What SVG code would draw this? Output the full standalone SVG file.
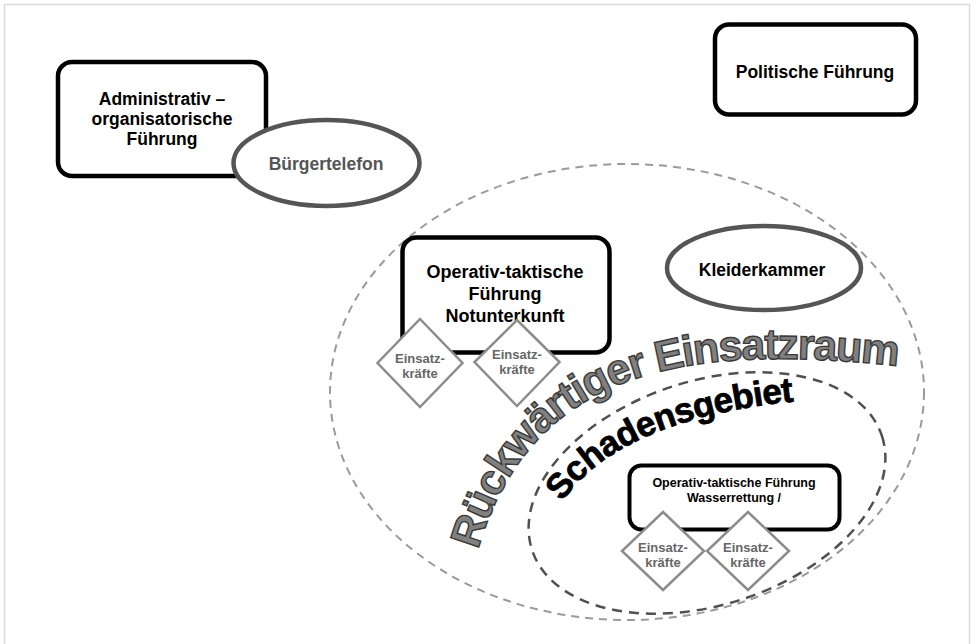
<svg xmlns="http://www.w3.org/2000/svg" width="973" height="644" viewBox="0 0 973 644">
<style>
  text { font-family: "Liberation Sans", Arial, Helvetica, sans-serif; font-weight: bold; }
  .box { fill: #fff; stroke: #000; stroke-width: 4.5; }
  .oval { fill: #fff; stroke: #555; stroke-width: 4.5; }
  .dia { fill: #fff; stroke: #8c8c8c; stroke-width: 2.5; }
  .lbl { font-size: 17.5px; fill: #000; text-anchor: middle; }
  .dlbl { font-size: 13px; fill: #666; text-anchor: middle; }
  .area1 { fill: none; stroke: #9a9a9a; stroke-width: 2; stroke-dasharray: 8 6; }
  .area2 { fill: none; stroke: #505050; stroke-width: 2.5; stroke-dasharray: 10 7; }
</style>
<defs>
  <path id="arcRueck" d="M478,550 C534,359 702,343 915,368"/>
  <path id="arcSchaden" d="M562,502 C608,436 704,408 820,399"/>
</defs>
<rect x="4.5" y="4.5" width="965" height="660" fill="#fff" stroke="#dcdcdc" stroke-width="1.5"/>

<g id="area-rueckwaertiger-einsatzraum">
  <ellipse class="area1" cx="627" cy="392" rx="297" ry="228"/>
</g>
<g id="area-schadensgebiet">
  <ellipse class="area2" cx="707" cy="493" rx="184" ry="112" transform="rotate(-18 707 493)"/>
</g>

<g id="label-rueckwaertiger-einsatzraum">
  <text font-size="43" letter-spacing="-1.4" fill="#808080" stroke="#3a3a3a" stroke-width="1.4"><textPath href="#arcRueck">Rückwärtiger Einsatzraum</textPath></text>
</g>
<g id="label-schadensgebiet">
  <text font-size="35" letter-spacing="-0.6" fill="#000" stroke="#000" stroke-width="0.8"><textPath href="#arcSchaden">Schadensgebiet</textPath></text>
</g>

<g id="node-admin">
  <rect class="box" x="58" y="62" width="208" height="114" rx="14"/>
  <text class="lbl" x="162" y="105">Administrativ –</text>
  <text class="lbl" x="162" y="125">organisatorische</text>
  <text class="lbl" x="162" y="145">Führung</text>
</g>
<g id="node-buergertelefon">
  <ellipse class="oval" cx="326.5" cy="163" rx="93" ry="43"/>
  <text class="lbl" x="326" y="170" style="fill:#555">Bürgertelefon</text>
</g>
<g id="node-politisch">
  <rect class="box" x="715" y="24.5" width="201" height="90" rx="14"/>
  <text class="lbl" x="815" y="78">Politische Führung</text>
</g>
<g id="node-notunterkunft">
  <rect class="box" x="402.5" y="237.5" width="207" height="115" rx="14"/>
  <text class="lbl" x="505" y="278" style="font-size:18px">Operativ-taktische</text>
  <text class="lbl" x="505" y="300" style="font-size:18px">Führung</text>
  <text class="lbl" x="505" y="322" style="font-size:18px">Notunterkunft</text>
</g>
<g id="node-kleiderkammer">
  <ellipse class="oval" cx="764" cy="268" rx="97" ry="42"/>
  <text class="lbl" x="762" y="276">Kleiderkammer</text>
</g>
<g id="node-einsatzkraefte-1">
  <polygon class="dia" points="420,319 462.5,363 420,407 377.5,363"/>
  <text class="dlbl" x="420" y="363">Einsatz-</text>
  <text class="dlbl" x="420" y="378">kräfte</text>
</g>
<g id="node-einsatzkraefte-2">
  <polygon class="dia" points="517,320 559.5,362 517,406 474.5,362"/>
  <text class="dlbl" x="517" y="359">Einsatz-</text>
  <text class="dlbl" x="517" y="374">kräfte</text>
</g>
<g id="node-wasserrettung">
  <rect class="box" x="629.5" y="465.5" width="210" height="64" rx="12" style="stroke-width:4"/>
  <text class="lbl" x="734" y="487" style="font-size:12.5px">Operativ-taktische Führung</text>
  <text class="lbl" x="734" y="502" style="font-size:12.5px">Wasserrettung /</text>
</g>
<g id="node-einsatzkraefte-3">
  <polygon class="dia" points="663,512 704,551 663,590 622,551"/>
  <text class="dlbl" x="663" y="552">Einsatz-</text>
  <text class="dlbl" x="663" y="567">kräfte</text>
</g>
<g id="node-einsatzkraefte-4">
  <polygon class="dia" points="748,512 789,551 748,590 707,551"/>
  <text class="dlbl" x="748" y="552">Einsatz-</text>
  <text class="dlbl" x="748" y="567">kräfte</text>
</g>
<g id="connectors"></g>
</svg>
